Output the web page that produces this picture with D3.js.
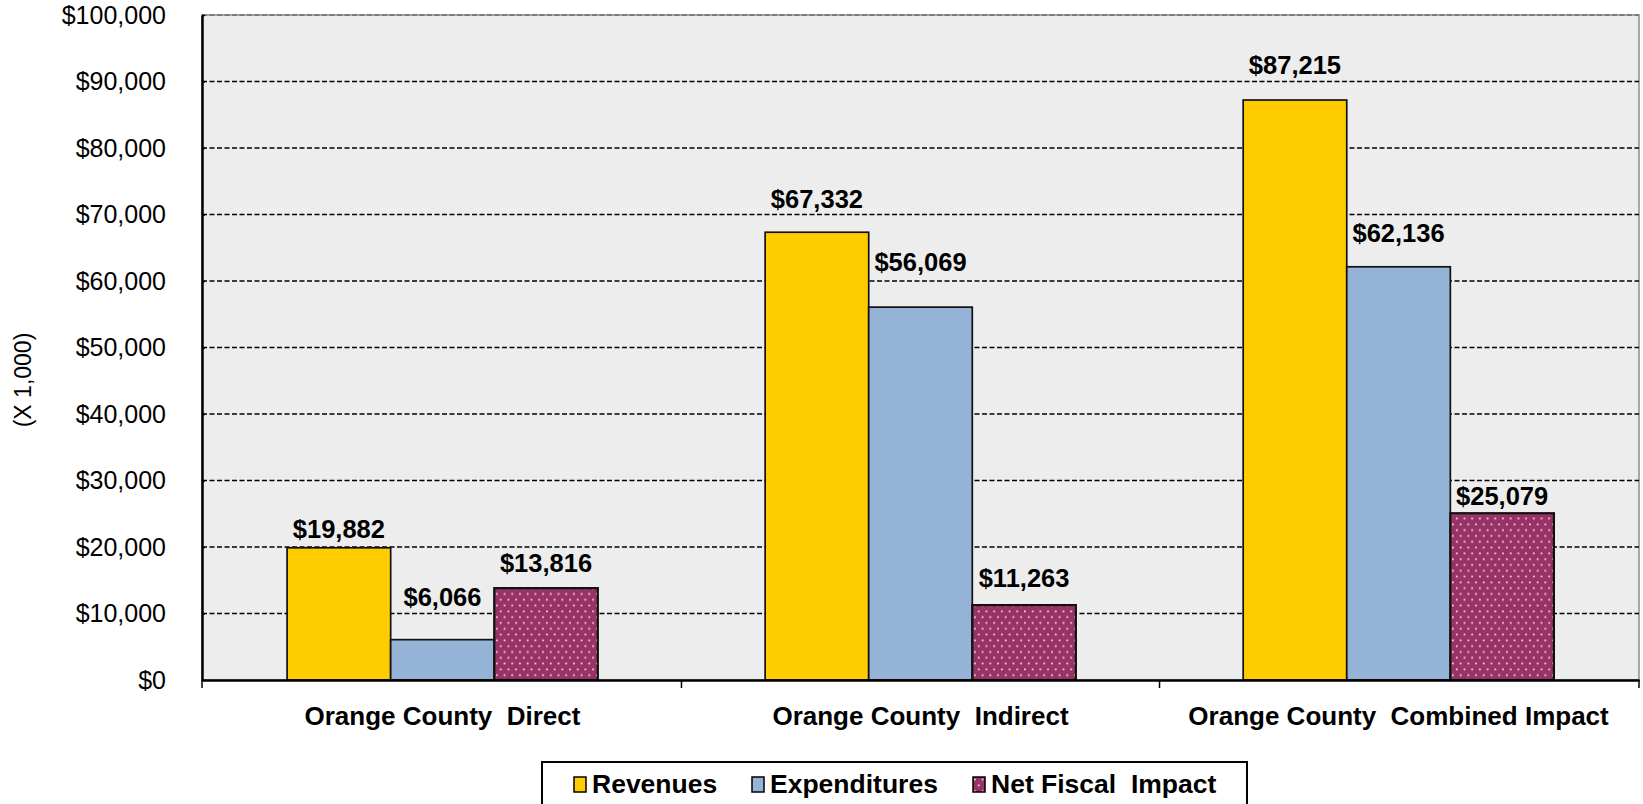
<!DOCTYPE html>
<html>
<head>
<meta charset="utf-8">
<script src="https://cdn.jsdelivr.net/npm/d3@7"></script>
<style>
  body { margin: 0; background: #fff; }
  svg { display: block; }
  text { font-family: "Liberation Sans", Arial, sans-serif; fill: #000; }
</style>
</head>
<body>
<svg id="chart" width="1643" height="804"></svg>
<script>
// ---- data ----
const categories = ["Orange County  Direct", "Orange County  Indirect", "Orange County  Combined Impact"];
const seriesNames = ["Revenues", "Expenditures", "Net Fiscal  Impact"];
const revenues = [19882, 67332, 87215];
const expenditures = [6066, 56069, 62136];
const netFiscalImpact = [13816, 11263, 25079];
const yTickValues = [0, 10000, 20000, 30000, 40000, 50000, 60000, 70000, 80000, 90000, 100000];
const yAxisTitle = "(X 1,000)";

// ---- layout ----
const plot = { left: 202, right: 1639, top: 15, bottom: 680 };
const fills = ["#FFCC00", "#95B3D7", "url(#dots)"];
// distance from each value label's baseline to the top of its bar, per category / series
const labelGap = [[10, 34, 16], [24, 36, 18], [26, 24.5, 8]];

const seriesValues = [revenues, expenditures, netFiscalImpact];
const rows = categories.map((c, i) => ({
  category: c,
  values: seriesNames.map((s, j) => ({ series: s, idx: j, value: seriesValues[j][i], gap: labelGap[i][j] }))
}));

const svg = d3.select("#chart");

// dotted fill for the net fiscal impact bars
const defs = svg.append("defs");
const pat = defs.append("pattern")
  .attr("id", "dots").attr("patternUnits", "userSpaceOnUse")
  .attr("width", 7.7).attr("height", 11.6);
pat.append("rect").attr("width", 7.7).attr("height", 11.6).attr("fill", "#993366");
pat.append("rect").attr("x", 1).attr("y", 1.5).attr("width", 1.7).attr("height", 1.7).attr("fill", "#f4dcea");
pat.append("rect").attr("x", 4.85).attr("y", 7.3).attr("width", 1.7).attr("height", 1.7).attr("fill", "#f4dcea");

const x0 = d3.scaleBand().domain(categories)
  .range([plot.left, plot.right]).paddingInner(0.35).paddingOuter(0.178);
const x1 = d3.scaleBand().domain(seriesNames).range([0, x0.bandwidth()]).padding(0);
const y = d3.scaleLinear().domain([0, 100000]).range([plot.bottom, plot.top]);

// plot background
svg.append("rect")
  .attr("x", plot.left).attr("y", plot.top)
  .attr("width", plot.right - plot.left).attr("height", plot.bottom - plot.top)
  .attr("fill", "#EDEDED").attr("stroke", "#8c8c8c").attr("stroke-width", 1.5);

// dashed gridlines
svg.append("g").selectAll("line")
  .data(yTickValues.filter(d => d > 0))
  .join("line")
  .attr("x1", plot.left).attr("x2", plot.right)
  .attr("y1", d => y(d)).attr("y2", d => y(d))
  .attr("stroke", d => d === 100000 ? "#6e6e6e" : "#000")
  .attr("stroke-width", 1.4)
  .attr("stroke-dasharray", "5,2.5");

// bars
const groups = svg.append("g").selectAll("g")
  .data(rows).join("g")
  .attr("transform", d => `translate(${x0(d.category)},0)`);

groups.selectAll("rect")
  .data(d => d.values).join("rect")
  .attr("x", d => x1(d.series))
  .attr("y", d => y(d.value))
  .attr("width", x1.bandwidth())
  .attr("height", d => y(0) - y(d.value))
  .attr("fill", d => fills[d.idx])
  .attr("stroke", "#111")
  .attr("stroke-width", d => d.idx === 2 ? 2.2 : 1.7);

// value labels
groups.selectAll("text")
  .data(d => d.values).join("text")
  .attr("x", d => x1(d.series) + x1.bandwidth() / 2)
  .attr("y", d => y(d.value) - d.gap)
  .attr("text-anchor", "middle")
  .attr("font-size", 25.5).attr("font-weight", "bold")
  .text(d => "$" + d3.format(",")(d.value));

// y axis
const yAxis = svg.append("g")
  .attr("transform", `translate(${plot.left},0)`)
  .call(d3.axisLeft(y).tickValues(yTickValues)
    .tickFormat(d => "$" + d3.format(",")(d))
    .tickSizeInner(6).tickSizeOuter(0).tickPadding(30));
yAxis.select(".domain").attr("stroke", "#000").attr("stroke-width", 2.5);
yAxis.selectAll(".tick line").attr("stroke", "#000").attr("stroke-width", 1.5).attr("x2", 3);
yAxis.selectAll(".tick text").attr("font-size", 25).attr("font-family", "Liberation Sans, Arial, sans-serif").attr("fill", "#000");

// x axis: labels at category centres, ticks at category boundaries
const xAxis = svg.append("g")
  .attr("transform", `translate(0,${plot.bottom})`)
  .call(d3.axisBottom(x0).tickSize(0).tickPadding(27));
xAxis.select(".domain").attr("stroke", "#000").attr("stroke-width", 2.5);
xAxis.selectAll(".tick text")
  .attr("font-size", 26).attr("font-weight", "bold")
  .attr("font-family", "Liberation Sans, Arial, sans-serif").attr("fill", "#000")
  .style("white-space", "pre");
const bounds = [plot.left].concat(categories.map(c => x0(c) + x0.bandwidth() + x0.step() * x0.paddingInner() / 2));
bounds[bounds.length - 1] = plot.right;
xAxis.selectAll(".bound").data(bounds).join("line")
  .attr("class", "bound")
  .attr("x1", d => d).attr("x2", d => d)
  .attr("y1", 0).attr("y2", 8)
  .attr("stroke", "#000").attr("stroke-width", 1.5);

// y axis title
svg.append("text")
  .attr("transform", "translate(31,380) rotate(-90)")
  .attr("text-anchor", "middle")
  .attr("font-size", 23)
  .text(yAxisTitle);

// legend
const legend = svg.append("g");
legend.append("rect")
  .attr("x", 542).attr("y", 762).attr("width", 705).attr("height", 60)
  .attr("fill", "#fff").attr("stroke", "#000").attr("stroke-width", 2);
const legendX = [574, 752, 973];
const items = legend.selectAll("g.item").data(seriesNames).join("g")
  .attr("class", "item")
  .attr("transform", (d, i) => `translate(${legendX[i]},0)`);
items.append("rect")
  .attr("x", 0).attr("y", 777).attr("width", 12).attr("height", 15)
  .attr("fill", (d, i) => fills[i])
  .attr("stroke", "#000").attr("stroke-width", 1.5);
items.append("text")
  .attr("x", 18).attr("y", 793)
  .attr("font-size", 26.5).attr("font-weight", "bold")
  .style("white-space", "pre")
  .text(d => d);
</script>
</body>
</html>
